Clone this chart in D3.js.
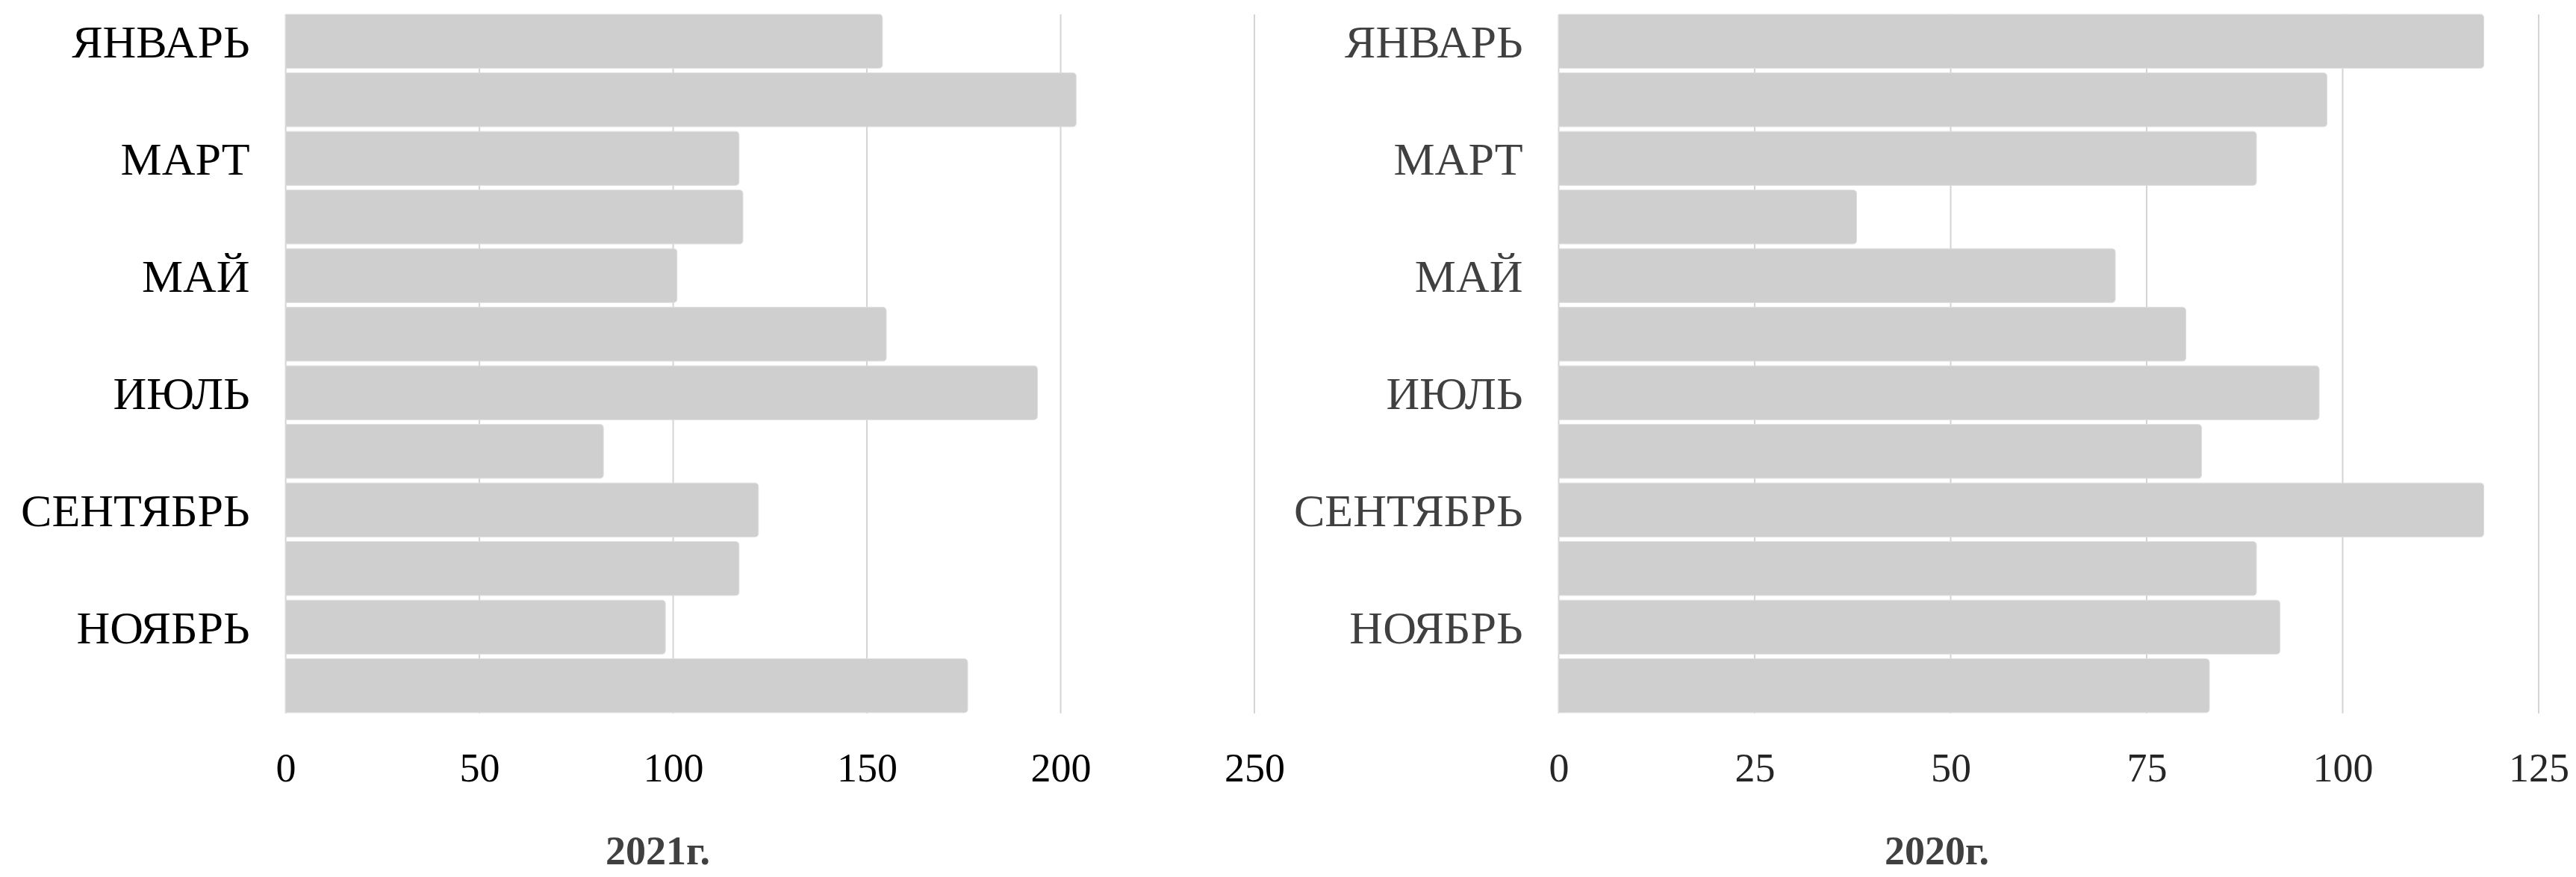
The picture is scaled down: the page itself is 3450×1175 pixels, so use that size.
<!DOCTYPE html>
<html>
<head>
<meta charset="utf-8">
<script src="https://cdn.jsdelivr.net/npm/d3@7/dist/d3.min.js"></script>
<style>
  html, body { margin: 0; padding: 0; background: #fff; }
  svg { display: block; }
</style>
</head>
<body>
<svg id="chart" width="3450" height="1175"></svg>
<script>
const months = ["ЯНВАРЬ","ФЕВРАЛЬ","МАРТ","АПРЕЛЬ","МАЙ","ИЮНЬ","ИЮЛЬ","АВГУСТ","СЕНТЯБРЬ","ОКТЯБРЬ","НОЯБРЬ","ДЕКАБРЬ"];
const shownLabels = ["ЯНВАРЬ","МАРТ","МАЙ","ИЮЛЬ","СЕНТЯБРЬ","НОЯБРЬ"];
const values2021 = [154, 204, 117, 118, 101, 155, 194, 82, 122, 117, 98, 176];
const values2020 = [118, 98, 89, 38, 71, 80, 97, 82, 118, 89, 92, 83];
const ticks2021 = [0, 50, 100, 150, 200, 250];
const ticks2020 = [0, 25, 50, 75, 100, 125];
const title2021 = "2021г.";
const title2020 = "2020г.";

const svg = d3.select("#chart");
const fontFamily = "'Liberation Serif', 'DejaVu Serif', serif";

function drawPanel(cfg) {
  const g = svg.append("g");
  const x = d3.scaleLinear().domain([0, cfg.ticks[cfg.ticks.length - 1]]).range([cfg.x0, cfg.x1]);
  const y = d3.scaleBand().domain(months).range([16, 958]).paddingInner(0.08).paddingOuter(0.04);
  const gridTop = y(months[0]);
  const gridBottom = y(months[months.length - 1]) + y.bandwidth() + 1;

  // gridlines
  g.append("g").selectAll("line").data(cfg.ticks).join("line")
    .attr("x1", d => x(d)).attr("x2", d => x(d))
    .attr("y1", gridTop).attr("y2", gridBottom)
    .attr("stroke", "#d4d4d4").attr("stroke-width", 2);

  // bars
  g.append("g").selectAll("path").data(cfg.values).join("path")
    .attr("d", (d, i) => {
      const x0 = x(0), x1 = x(d), yy = y(months[i]), h = y.bandwidth(), r = 5;
      return `M${x0},${yy} H${x1 - r} Q${x1},${yy} ${x1},${yy + r} V${yy + h - r} Q${x1},${yy + h} ${x1 - r},${yy + h} H${x0} Z`;
    })
    .attr("fill", "#cfcfcf")
    .attr("stroke", "#dddddd")
    .attr("stroke-width", 1);

  // category labels
  g.append("g").selectAll("text").data(months.filter(m => shownLabels.includes(m))).join("text")
    .attr("x", cfg.x0 - 48)
    .attr("y", d => y(d) + y.bandwidth() / 2)
    .attr("dy", "0.35em")
    .attr("text-anchor", "end")
    .attr("font-family", fontFamily)
    .attr("font-size", 62)
    .attr("fill", cfg.labelColor)
    .text(d => d);

  // x axis tick labels
  const axis = d3.axisBottom(x).tickValues(cfg.ticks).tickSize(0).tickPadding(0).tickFormat(d3.format("d"));
  const ag = g.append("g").attr("transform", `translate(0, 1047)`).call(axis);
  ag.select(".domain").remove();
  ag.selectAll("text")
    .attr("dy", 0)
    .attr("y", 0)
    .attr("font-family", fontFamily)
    .attr("font-size", 54)
    .attr("fill", cfg.tickColor);

  // title
  g.append("text")
    .attr("x", cfg.titleX)
    .attr("y", 1158)
    .attr("text-anchor", "middle")
    .attr("font-family", fontFamily)
    .attr("font-size", 54)
    .attr("font-weight", "bold")
    .attr("fill", "#404040")
    .text(cfg.title);
}

drawPanel({ values: values2021, ticks: ticks2021, x0: 382.6, x1: 1680, labelColor: "#000", tickColor: "#000", title: title2021, titleX: 881 });
drawPanel({ values: values2020, ticks: ticks2020, x0: 2087.5, x1: 3400, labelColor: "#404040", tickColor: "#262626", title: title2020, titleX: 2594 });
</script>
</body>
</html>
